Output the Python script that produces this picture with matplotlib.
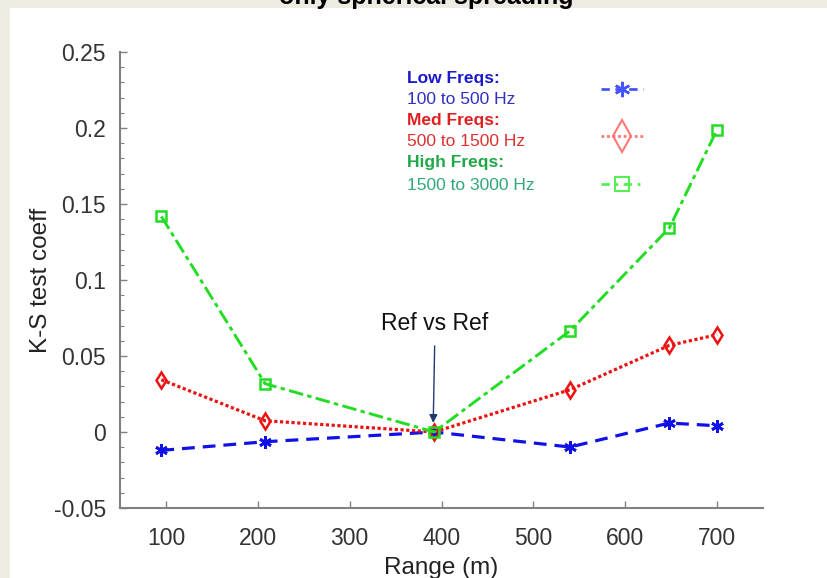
import matplotlib
matplotlib.use("Agg")
import matplotlib.pyplot as plt
from matplotlib.lines import Line2D
from matplotlib.patches import Rectangle
from matplotlib.ticker import MultipleLocator

plt.rcParams['font.family'] = ['Liberation Sans', 'DejaVu Sans']

# Data
range_m = [95, 208, 392, 540, 648, 700]
low_freq = [-0.0121, -0.0064, 0.0, -0.0099, 0.0059, 0.0041]
med_freq = [0.0344, 0.0074, 0.0, 0.0278, 0.0570, 0.0640]
high_freq = [0.1418, 0.0318, 0.0, 0.0666, 0.1342, 0.1989]
xticks = [100, 200, 300, 400, 500, 600, 700]
yticks = [-0.05, 0, 0.05, 0.1, 0.15, 0.2, 0.25]
ytick_labels = ['-0.05', '0', '0.05', '0.1', '0.15', '0.2', '0.25']

W, H = 827, 578
fig = plt.figure(figsize=(W / 100, H / 100), dpi=100)
fig.patch.set_facecolor('#eeece2')
fig.patches.append(Rectangle((10 / W, 0), 1 - 10 / W, 1 - 8 / H,
                             transform=fig.transFigure, facecolor='white',
                             edgecolor='none', zorder=-5))
fig.text(0.515, 1 - 4 / H, 'only spherical spreading', ha='center', va='baseline',
         fontsize=18, fontweight='bold', color='black', zorder=-4)

ax = fig.add_axes([120 / W, 1 - 508 / H, (763 - 120) / W, (508 - 52) / H])
ax.set_facecolor('white')

blue = '#1010e8'
red = '#ee1111'
green = '#22dd22'
asterisk = (6, 2, 0)

ax.plot(range_m, low_freq, linestyle=(0, (4, 2.5)), color=blue, lw=2.3,
        marker=asterisk, markersize=9, markerfacecolor=blue, markeredgecolor=blue,
        markeredgewidth=2.0, zorder=3)
ax.plot(range_m, med_freq, linestyle=(0, (1, 0.8)), color=red, lw=2.3,
        marker='d', markersize=8.5, markerfacecolor='none', markeredgecolor=red,
        markeredgewidth=1.8, zorder=3)
ax.plot(range_m, high_freq, linestyle=(0, (5, 1.5, 1.5, 1.5)), color=green, lw=2.1,
        marker='s', markersize=6.5, markerfacecolor='none', markeredgecolor=green,
        markeredgewidth=1.8, zorder=4)

ax.set_xlim(50, 750)
ax.set_ylim(-0.05, 0.25)
ax.set_xticks(xticks)
ax.set_yticks(yticks)
ax.set_yticklabels(ytick_labels)
ax.yaxis.set_minor_locator(MultipleLocator(0.01))
for s in ['top', 'right']:
    ax.spines[s].set_visible(False)
for s in ['left', 'bottom']:
    ax.spines[s].set_color('#808080')
    ax.spines[s].set_linewidth(1.5)
ax.tick_params(axis='both', which='major', direction='in', length=5, width=1,
               color='#808080', labelsize=16.5, labelcolor='#333333')
ax.tick_params(axis='x', which='major', pad=14)
ax.tick_params(axis='y', which='major', pad=10)
ax.tick_params(axis='y', which='minor', direction='in', length=3, width=0.8,
               color='#808080')
ax.set_xlabel('Range (m)', fontsize=17.5, color='#222222', labelpad=5)
ax.set_ylabel('K-S test coeff', fontsize=17.5, color='#222222', labelpad=1)

# annotation
ax.annotate('Ref vs Ref', xy=(391, 0.006), xytext=(393, 0.0715),
            ha='center', va='center', fontsize=16.5, color='#111111',
            arrowprops=dict(arrowstyle='-|>', color='#1f3a6e', lw=1.0,
                            shrinkA=6, shrinkB=0, mutation_scale=12))

# legend-like text
texts = [('Low Freqs:', 'bold', '#1a1acc'),
         ('100 to 500 Hz', 'normal', '#3030c0'),
         ('Med Freqs:', 'bold', '#e02020'),
         ('500 to 1500 Hz', 'normal', '#dd3030'),
         ('High Freqs:', 'bold', '#20a848'),
         ('1500 to 3000 Hz', 'normal', '#30a878')]
ys = [78, 100, 120, 142, 163, 185]
for (t, w, c), y in zip(texts, ys):
    fig.text(407 / W, 1 - y / H, t, fontsize=12.5, fontweight=w, color=c,
             ha='left', va='center')

handles = [
    Line2D([], [], linestyle=(0, (3, 2)), color='#4455ff', lw=2, marker=asterisk,
           markersize=11, markerfacecolor='#4455ff', markeredgecolor='#4455ff',
           markeredgewidth=1.8),
    Line2D([], [], linestyle=(0, (1, 1)), color='#ff7777', lw=2, marker='d',
           markersize=16, markerfacecolor='none', markeredgecolor='#ff7777',
           markeredgewidth=1.5),
    Line2D([], [], linestyle=(0, (3, 2, 1, 2)), color='#55ee55', lw=2, marker='s',
           markersize=10, markerfacecolor='none', markeredgecolor='#55ee55',
           markeredgewidth=1.5),
]
leg = ax.legend(handles, ['', '', ''], loc='upper left',
                bbox_to_anchor=(594 / W, 1 - 76 / H), bbox_transform=fig.transFigure,
                frameon=False, handlelength=3.0, labelspacing=2.4, fontsize=10,
                handletextpad=0, borderpad=0)

fig.savefig('out.png', dpi=100, facecolor=fig.get_facecolor())
